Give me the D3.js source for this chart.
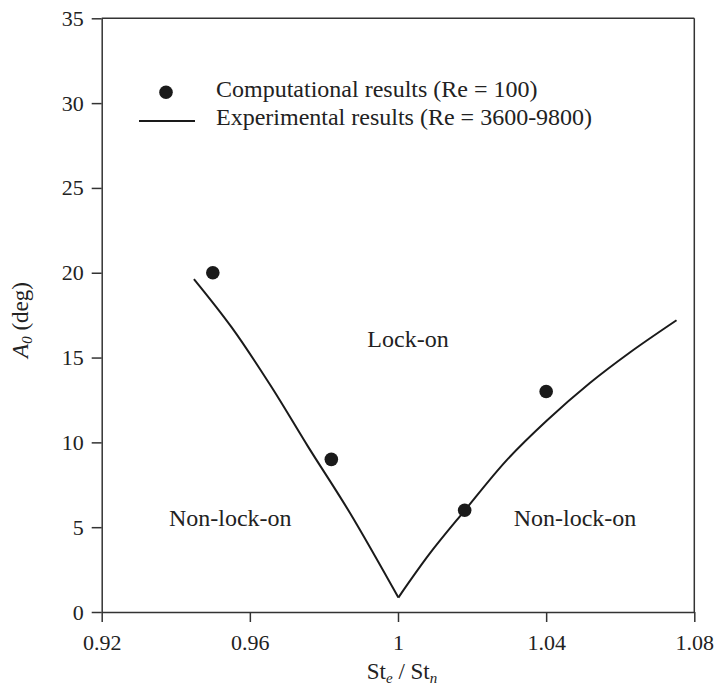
<!DOCTYPE html>
<html><head><meta charset="utf-8"><script src="https://cdn.jsdelivr.net/npm/d3@7"></script></head><body>
<script>
const compX = [0.95, 0.982, 1.018, 1.04];
const compY = [20, 9, 6, 13];
const expX = [0.9449, 0.9551, 0.9659, 0.9758, 0.987, 1.0001, 1.0086, 1.018, 1.0293, 1.0402, 1.0518, 1.0626, 1.0752];
const expY = [19.63, 16.78, 13.25, 9.72, 5.85, 0.85, 3.45, 5.98, 8.94, 11.29, 13.5, 15.3, 17.2];
const xTicks = [0.92, 0.96, 1.0, 1.04, 1.08];
const xTickLabels = ["0.92", "0.96", "1", "1.04", "1.08"];
const yTicks = [0, 5, 10, 15, 20, 25, 30, 35];
const regionLabels = [
  {x: 1.0027, y: 15.6, t: "Lock-on"},
  {x: 0.9547, y: 5.08, t: "Non-lock-on"},
  {x: 1.0478, y: 5.08, t: "Non-lock-on"}
];

const W = 718, H = 697;
const L = 101.7, R = 694.3, T = 18.3, B = 612;
const FONT = '"Times New Roman"';
const svg = d3.select("body").append("svg").attr("width", W).attr("height", H)
  .style("position", "absolute").style("left", "0px").style("top", "0px");
const x = d3.scaleLinear().domain([0.92, 1.08]).range([L, R]);
const y = d3.scaleLinear().domain([0, 35]).range([B, T]);
const axisCol = "#333";
const ink = "#1a1a1a";

svg.append("line").attr("x1", L).attr("x2", R).attr("y1", T).attr("y2", T).attr("stroke", axisCol).attr("stroke-width", 1.5);
svg.append("line").attr("x1", R).attr("x2", R).attr("y1", T).attr("y2", B).attr("stroke", axisCol).attr("stroke-width", 1.5);

const xAxis = svg.append("g").attr("transform", `translate(0,${B})`)
  .call(d3.axisBottom(x).tickValues(xTicks).tickFormat((d,i)=>xTickLabels[i]).tickSize(10).tickSizeOuter(0).tickPadding(12));
const yAxis = svg.append("g").attr("transform", `translate(${L},0)`)
  .call(d3.axisLeft(y).tickValues(yTicks).tickSize(10).tickSizeOuter(0).tickPadding(8));
[xAxis, yAxis].forEach(g => {
  g.attr("font-family", null).attr("font-size", null);
  g.select(".domain").attr("stroke", axisCol).attr("stroke-width", 1.5);
  g.selectAll(".tick line").attr("stroke", axisCol).attr("stroke-width", 1.5);
  g.selectAll(".tick text").style("font-family", FONT).attr("font-size", 22).attr("fill", "#222");
});

const pts = expX.map((d,i)=>[d, expY[i]]);
const left = pts.filter(p=>p[0] <= 1.0001), right = pts.filter(p=>p[0] >= 1.0001);
const line = d3.line().x(d=>x(d[0])).y(d=>y(d[1])).curve(d3.curveCatmullRom.alpha(0.5));
[left, right].forEach(seg => svg.append("path").attr("d", line(seg)).attr("fill","none").attr("stroke",ink).attr("stroke-width",2));

svg.selectAll("circle.pt").data(compX).enter().append("circle").attr("class","pt")
  .attr("cx", d=>x(d)).attr("cy", (d,i)=>y(compY[i])).attr("r", 6.8).attr("fill", ink);

function txt(sel, fs){ return sel.style("font-family", FONT).attr("font-size", fs || 24).attr("fill", "#222"); }

txt(svg.selectAll("text.reg").data(regionLabels).enter().append("text").attr("class","reg")
  .attr("x", d=>x(d.x)).attr("y", d=>y(d.y)).attr("text-anchor","middle")).text(d=>d.t);

svg.append("circle").attr("cx", 166).attr("cy", 92.3).attr("r", 6.8).attr("fill", ink);
txt(svg.append("text").attr("x", 216).attr("y", 97)).text("Computational results (Re = 100)");
svg.append("line").attr("x1", 139).attr("x2", 195).attr("y1", 121).attr("y2", 121).attr("stroke", ink).attr("stroke-width", 2);
txt(svg.append("text").attr("x", 216).attr("y", 124.5)).text("Experimental results (Re = 3600-9800)");

const xt = txt(svg.append("text").attr("x", 402).attr("y", 679).attr("text-anchor","middle"), 23);
xt.append("tspan").text("St");
xt.append("tspan").attr("font-style","italic").attr("font-size", 15).attr("dy", 4).text("e");
xt.append("tspan").attr("dy", -4).text(" / St");
xt.append("tspan").attr("font-style","italic").attr("font-size", 15).attr("dy", 4).text("n");

const yt = txt(svg.append("text").attr("transform", "translate(28,320) rotate(-90)").attr("text-anchor","middle"), 23);
yt.append("tspan").attr("font-style","italic").text("A");
yt.append("tspan").attr("font-style","italic").attr("font-size", 15).attr("dy", 4).text("0");
yt.append("tspan").attr("dy", -4).text(" (deg)");
</script>
</body></html>
